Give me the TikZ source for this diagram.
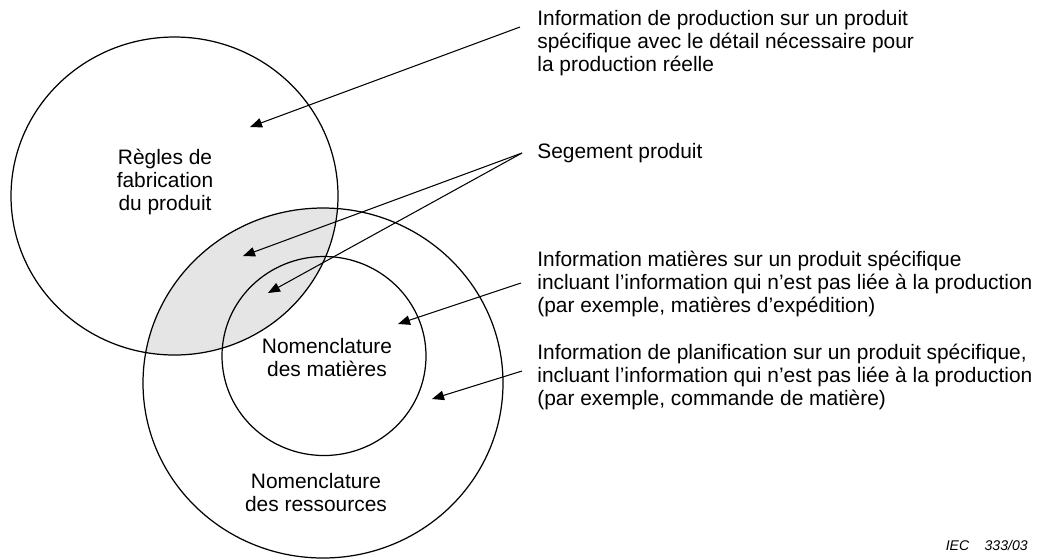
\documentclass[tikz,border=0pt]{standalone}
\usepackage{fontspec}
\setmainfont{Liberation Sans}
\usetikzlibrary{arrows.meta}

\begin{document}
\begin{tikzpicture}[x=0.02cm, y=-0.02cm]
    \tikzstyle{zone} = [line width=0.7pt];
    \tikzstyle{txt} = [inner sep=0pt, align=left, anchor=west, font=\fontsize{11.9}{13.1}\selectfont];
    \tikzstyle{ctxt} = [inner sep=0pt, align=center, font=\fontsize{11.9}{13.1}\selectfont];
    \tikzstyle{arr} = [-{Triangle[length=2.4mm,width=1.9mm]}, line width=0.6pt];

    \useasboundingbox (0,0) rectangle (1040,559);

    % centres of the three zones
    \coordinate (C1) at (174.5,196);
    \coordinate (C2) at (323,383);
    \coordinate (C3) at (324,356);

    % shaded overlap
    \begin{scope}
        \clip (C1) ellipse [x radius=163.5, y radius=159];
        \fill[black!10] (C2) ellipse [x radius=180, y radius=175];
    \end{scope}

    \draw[zone] (C1) ellipse [x radius=163.5, y radius=159];
    \draw[zone] (C2) ellipse [x radius=180, y radius=175];
    \draw[zone] (C3) ellipse [x radius=102, y radius=99.5];

    \node[ctxt](regles) at (165,182) {R\`egles de\\fabrication\\du produit};
    \node[ctxt](matieres) at (327,358) {Nomenclature\\des mati\`eres};
    \node[ctxt](ressources) at (316,493) {Nomenclature\\des ressources};

    \node[txt](infoprod) at (537,43) {Information de production sur un produit\\sp\'ecifique avec le d\'etail n\'ecessaire pour\\la production r\'eelle};
    \node[txt](segment) at (537,153) {Segement produit};
    \node[txt](infomat) at (537,284) {Information mati\`eres sur un produit sp\'ecifique\\incluant l’information qui n’est pas li\'ee \`a la production\\(par exemple, mati\`eres d’exp\'edition)};
    \node[txt](infoplan) at (537,377) {Information de planification sur un produit sp\'ecifique,\\incluant l’information qui n’est pas li\'ee \`a la production\\(par exemple, commande de mati\`ere)};

    \node[inner sep=0pt, anchor=east, font=\fontsize{8}{9}\itshape](iec) at (1028,545) {IEC\hspace{1.1em}333/03};

    % arrow ends
    \coordinate (s1) at (520,27);
    \coordinate (e1) at (250,127);
    \coordinate (s2) at (522,153);
    \coordinate (e2) at (243,256);
    \coordinate (e3) at (268,293);
    \coordinate (s4) at (521,283);
    \coordinate (e4) at (398,324);
    \coordinate (s5) at (522,371);
    \coordinate (e5) at (432,399);

    \draw[arr] (s1) -- (e1);
    \draw[arr] (s2) -- (e2);
    \draw[arr] (s2) -- (e3);
    \draw[arr] (s4) -- (e4);
    \draw[arr] (s5) -- (e5);
\end{tikzpicture}
\end{document}
